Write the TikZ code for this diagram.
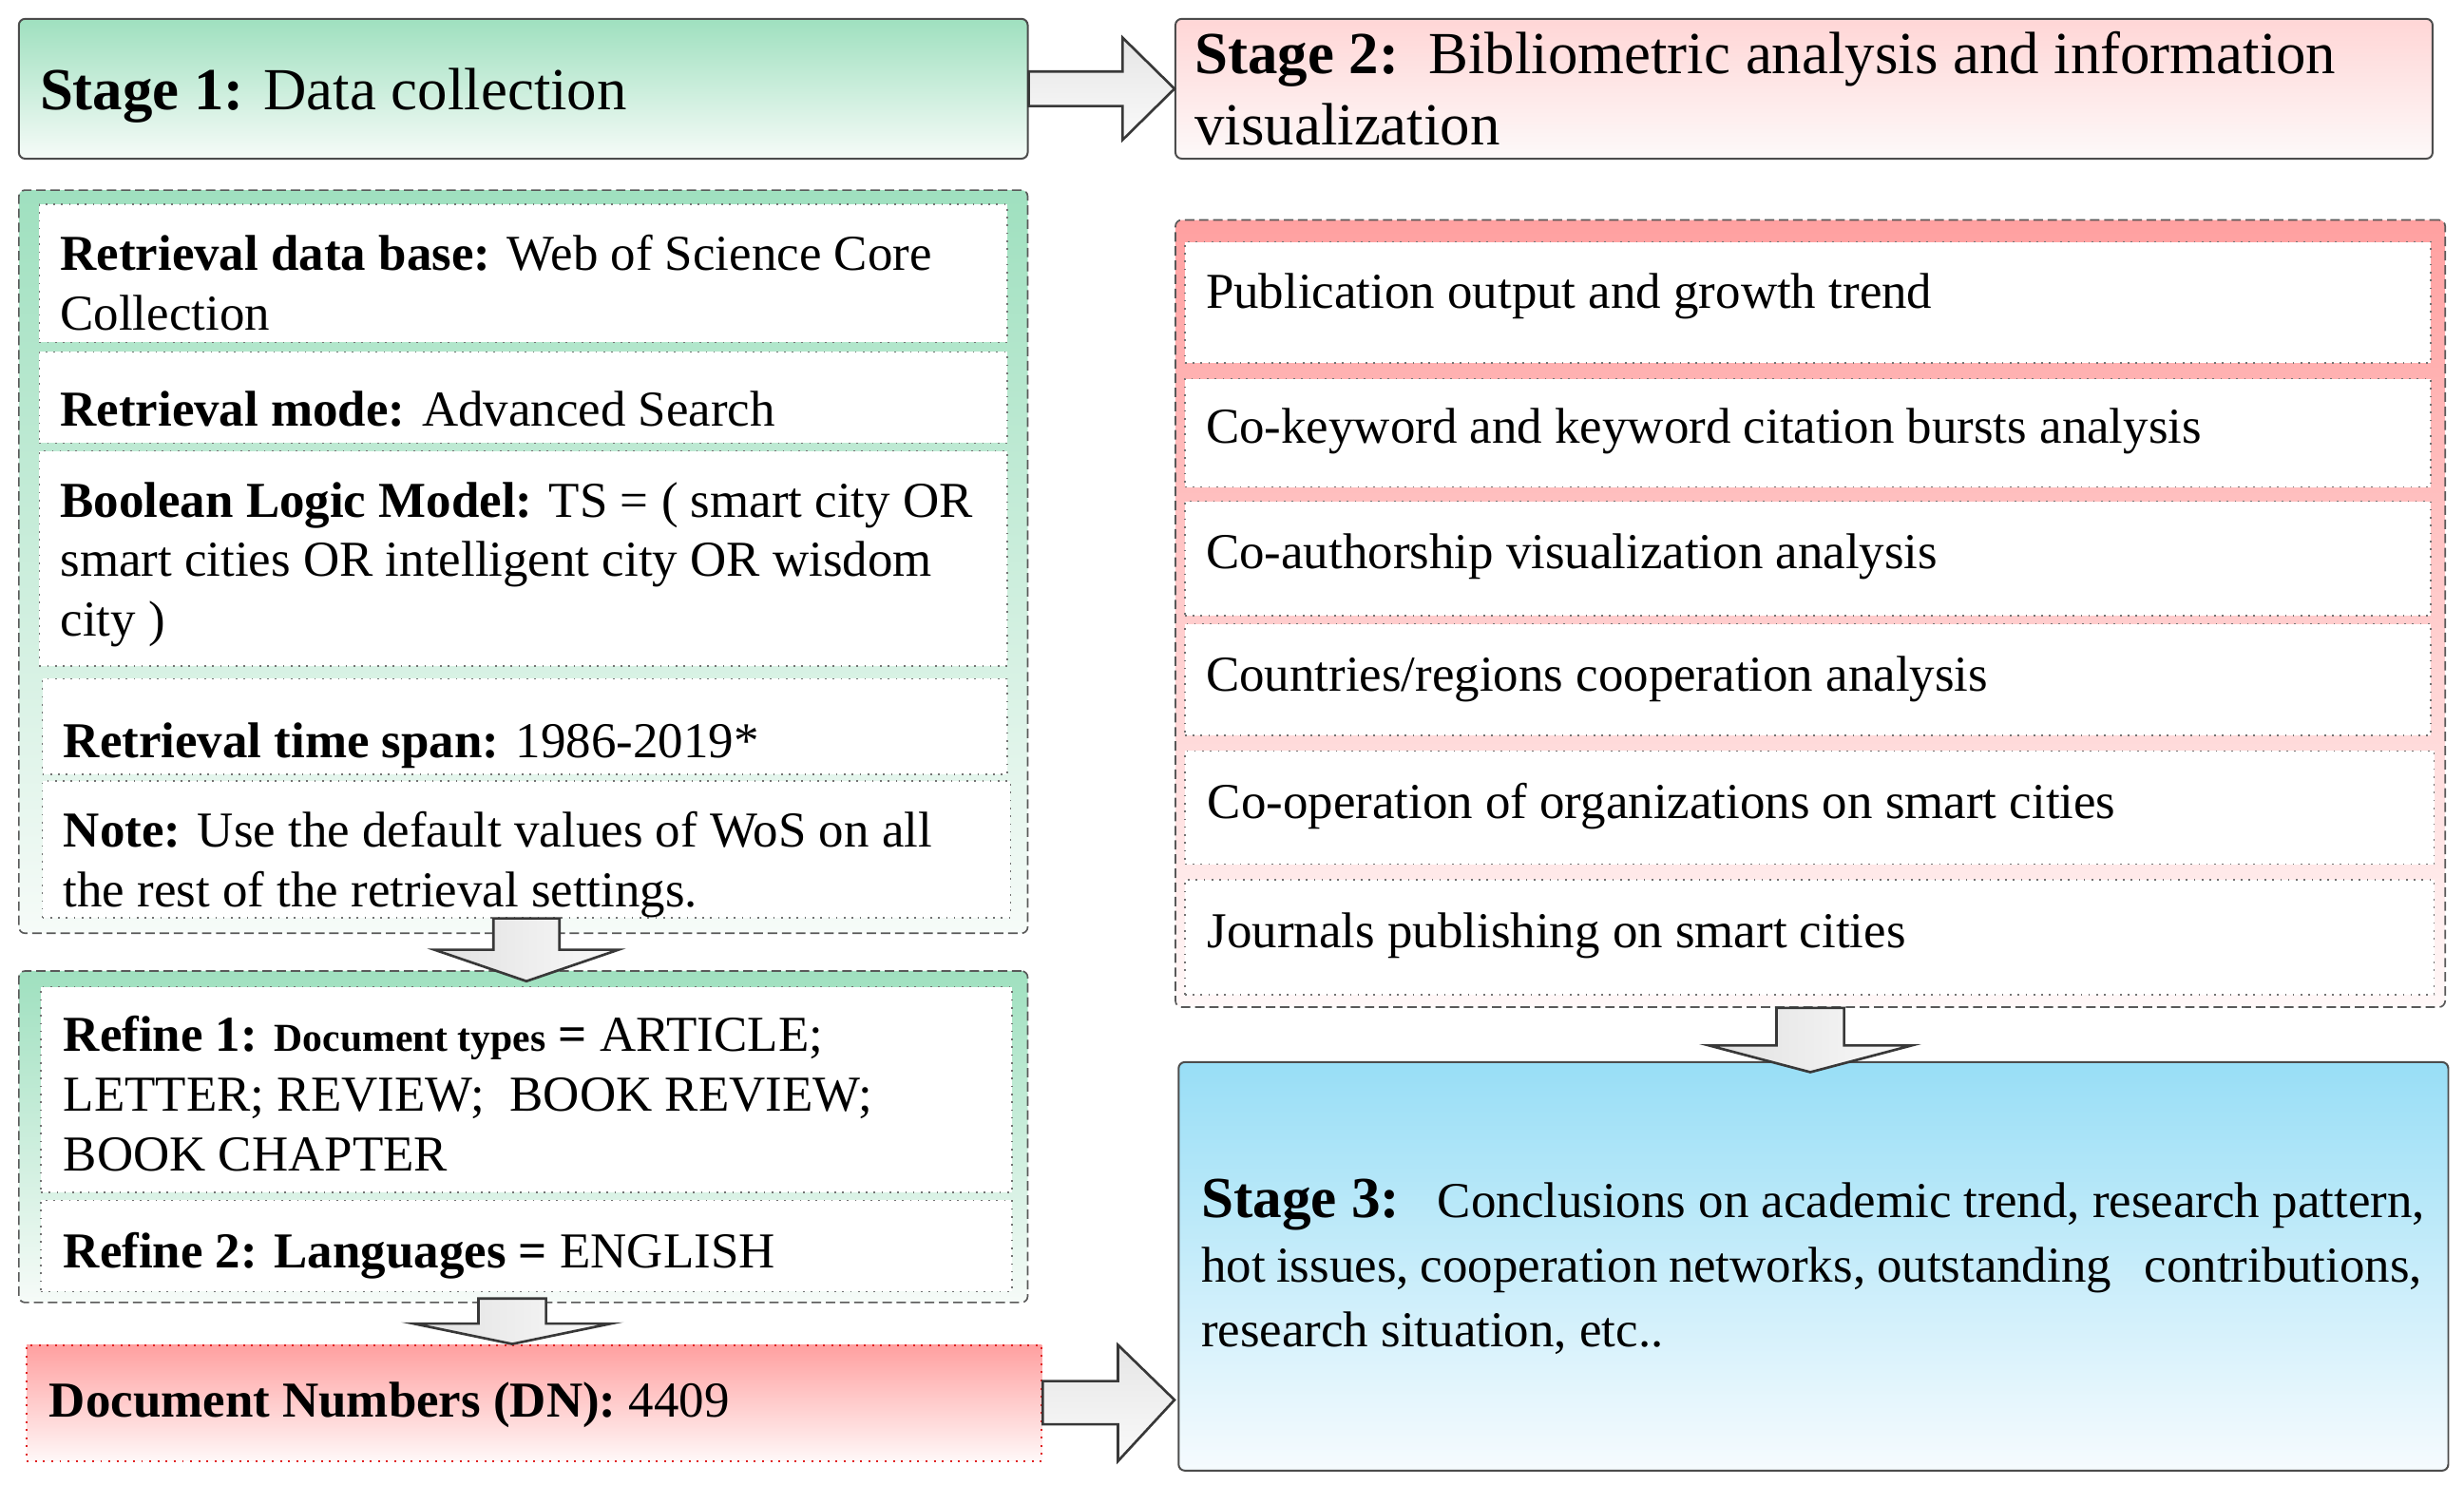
\documentclass[tikz,border=0pt]{standalone}
\usepackage{fontspec}
\setmainfont{Liberation Serif}
\usetikzlibrary{calc,fit}
\definecolor{gtop}{HTML}{9FE0BF}
\definecolor{gbot}{HTML}{F6FBF8}
\definecolor{ptop}{HTML}{FFD6D6}
\definecolor{pbot}{HTML}{FDF9F9}
\definecolor{rtop}{HTML}{FFA0A0}
\definecolor{rbot}{HTML}{FFF8F8}
\definecolor{btop}{HTML}{98DEF6}
\definecolor{bbot}{HTML}{F6FBFE}
\definecolor{dnred}{HTML}{E02020}
\newcommand{\blockR}[5]{%
  \path[arrR] ($(#1)+(0,#3)$) -- ($(#2)+(-#5,#3)$) -- ($(#2)+(-#5,#4)$) -- (#2)
   -- ($(#2)+(-#5,-#4)$) -- ($(#2)+(-#5,-#3)$) -- ($(#1)+(0,-#3)$) -- cycle;}
\newcommand{\blockD}[5]{%
  \path[arrD] ($(#1)+(#3,0)$) -- ($(#2)+(#3,-#5)$) -- ($(#2)+(#4,-#5)$) -- (#2)
   -- ($(#2)+(-#4,-#5)$) -- ($(#2)+(-#3,-#5)$) -- ($(#1)+(-#3,0)$) -- cycle;}
\begin{document}
\begin{tikzpicture}[x=0.5pt,y=-0.5pt,
  stg/.style={draw=black!70, line width=0.6pt, rounded corners=2pt, inner sep=0pt},
  cont/.style={draw=black!65, dash pattern=on 3pt off 1.5pt, line width=0.5pt, rounded corners=2pt, inner sep=0pt},
  inbox/.style={draw=black!55, dotted, line width=0.5pt, fill=white, inner sep=0pt},
  txt/.style={anchor=base west, inner sep=0pt, align=left, font=\fontsize{16}{19}\selectfont},
  big/.style={anchor=base west, inner sep=0pt, align=left, font=\fontsize{19}{22.5}\selectfont},
  arr/.style={draw=black!78, line width=0.8pt, line join=miter},
  arrD/.style={arr, left color=black!12, right color=black!2},
  arrR/.style={arr, top color=black!10, bottom color=black!2}]
\useasboundingbox (0,0) rectangle (1568,945);

% ---- Stage 1 and Stage 2 headers
\node[stg, top color=gtop, bottom color=gbot, fit={(12,12) (654,101)}] (s1) {};
\node[big] (s1t) at (25,70) {\textbf{Stage 1:} Data collection};
\node[stg, top color=ptop, bottom color=pbot, fit={(748,12) (1548,101)}] (s2) {};
% base anchor of a multi-line node = baseline of its last line
\node[big] (s2t) at (760,92) {\textbf{Stage 2:}\ \ Bibliometric analysis and information\\visualization};

% ---- left container 1
\node[cont, top color=gtop, bottom color=gbot, fit={(12,121) (654,594)}] (c1) {};
\node[inbox, fit={(25,130) (641,218)}] (ia) {};
\node[inbox, fit={(25,224) (641,282)}] (ib) {};
\node[inbox, fit={(25,287) (641,424)}] (ic) {};
\node[inbox, fit={(27,432) (641,493)}] (id) {};
\node[inbox, fit={(27,497) (643,584)}] (ie) {};
\node[txt] (ta) at (38,210) {\textbf{Retrieval data base:} Web of Science Core\\Collection};
\node[txt] (tb) at (38,271) {\textbf{Retrieval mode:} Advanced Search};
\node[txt] (tc) at (38,405) {\textbf{Boolean Logic Model:} TS = ( smart city OR\\smart cities OR intelligent city OR wisdom\\city )};
\node[txt] (td) at (40,482) {\textbf{Retrieval time span:} 1986-2019*};
\node[txt] (te) at (40,577) {\textbf{Note:} Use the default values of WoS on all\\the rest of the retrieval settings.};

% ---- left container 2
\node[cont, top color=gtop, bottom color=gbot, fit={(12,618) (654,829)}] (c2) {};
\node[inbox, fit={(26,628) (644,759)}] (r1) {};
\node[inbox, fit={(26,764) (644,822)}] (r2) {};
\node[txt] (tr1) at (40,745) {\textbf{Refine 1: {\fontsize{12.6}{19}\selectfont Document types} =} ARTICLE;\\LETTER; REVIEW;\ \ BOOK REVIEW;\\BOOK CHAPTER};
\node[txt] (tr2) at (40,807) {\textbf{Refine 2: Languages =} ENGLISH};

% ---- Document numbers
\node[draw=dnred, dotted, line width=0.6pt, inner sep=0pt, top color=rtop, bottom color=rbot, fit={(17,856) (663,930)}] (dn) {};
\node[txt] (tdn) at (31,902) {\textbf{Document Numbers (DN):} 4409};

% ---- right container
\node[cont, top color=rtop, bottom color=rbot, fit={(748,140) (1556,641)}] (c3) {};
\node[inbox, fit={(754,154) (1547,231)}] (l1) {};
\node[inbox, fit={(754,241) (1547,310)}] (l2) {};
\node[inbox, fit={(754,319) (1547,392)}] (l3) {};
\node[inbox, fit={(754,397) (1547,468)}] (l4) {};
\node[inbox, fit={(754,478) (1549,550)}] (l5) {};
\node[inbox, fit={(754,560) (1549,633)}] (l6) {};
\node[txt] (tl1) at (767,196) {Publication output and growth trend};
\node[txt] (tl2) at (767,282) {Co-keyword and keyword citation bursts analysis};
\node[txt] (tl3) at (767,362) {Co-authorship visualization analysis};
\node[txt] (tl4) at (767,440) {Countries/regions cooperation analysis};
\node[txt] (tl5) at (768,521) {Co-operation of organizations on smart cities};
\node[txt] (tl6) at (768,603) {Journals publishing on smart cities};

% ---- Stage 3
\node[stg, top color=btop, bottom color=bbot, fit={(750,676) (1558,936)}] (s3) {};
\node[txt, font=\fontsize{16}{20.5}\selectfont] (s3t) at (764,857) {{\fontsize{18.5}{20.5}\selectfont\textbf{Stage 3:}}\ \ \ Conclusions on academic trend, research pattern,\\\makebox[388.5pt][s]{hot issues, cooperation networks, outstanding\ \ \ contributions,}\\research situation, etc..};

% ---- block arrows
\coordinate (a1s) at (s1.east);
\coordinate (a1t) at (s2.west |- s1.east);
\blockR{a1s}{a1t}{11}{32.5}{33}

\coordinate (d1s) at (ie.south);
\coordinate (d1t) at ($(ie.south |- c2.north)+(0,7)$);
\blockD{d1s}{d1t}{21}{58.5}{20}

\coordinate (d2s) at ($(c2.south)+(-7,-3)$);
\coordinate (d2t) at (d2s |- dn.north);
\blockD{d2s}{d2t}{21.5}{63}{13}

\coordinate (a2s) at ($(dn.east)+(0,0)$);
\coordinate (a2t) at ($(s3.west |- dn.east)+(-2,-2)$);
\path[arrR] ($(a2s)+(0,-14)$) -- ($(a2t)+(-36,-12)$) -- ($(a2t)+(-36,-35)$) -- (a2t)
   -- ($(a2t)+(-36,39)$) -- ($(a2t)+(-36,15.5)$) -- ($(a2s)+(0,13.5)$) -- cycle;

\coordinate (d3s) at (c3.south);
\coordinate (d3t) at ($(c3.south |- s3.north)+(0,7)$);
\blockD{d3s}{d3t}{21.5}{64.5}{17}
\end{tikzpicture}
\end{document}
